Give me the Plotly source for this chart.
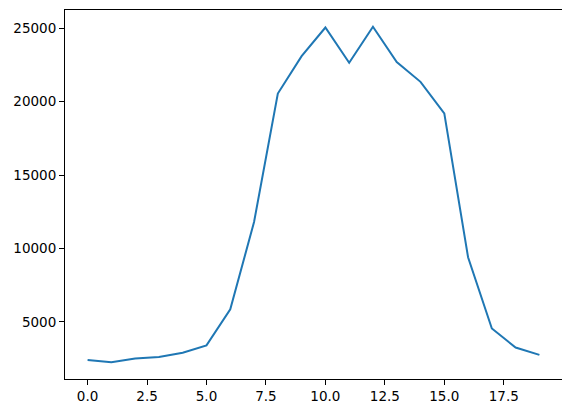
import plotly.graph_objects as go

# --- data ---
hours = list(range(20))
counts = [2400, 2250, 2500, 2600, 2900, 3400, 5850, 11800, 20550, 23100,
          25050, 22650, 25100, 22700, 21350, 19200, 9400, 4550, 3250, 2750]
x_ticks = [0.0, 2.5, 5.0, 7.5, 10.0, 12.5, 15.0, 17.5]
y_ticks = [5000, 10000, 15000, 20000, 25000]

# matplotlib-like 5% margins
x_pad = (max(hours) - min(hours)) * 0.05
y_pad = (max(counts) - min(counts)) * 0.05

fig = go.Figure()
fig.add_trace(go.Scatter(x=hours, y=counts, mode="lines",
                         line=dict(color="#1f77b4", width=2)))

axis_style = dict(showline=True, linecolor="black", linewidth=1, mirror=True,
                  ticks="outside", ticklen=5, tickwidth=1, tickcolor="black",
                  showgrid=False, zeroline=False, automargin=False,
                  tickfont=dict(family="DejaVu Sans", size=13.5, color="black"))

fig.update_xaxes(range=[min(hours) - x_pad, max(hours) + x_pad],
                 tickvals=x_ticks, ticktext=[f"{t:.1f}" for t in x_ticks],
                 **axis_style)
fig.update_yaxes(range=[min(counts) - y_pad, max(counts) + y_pad],
                 tickvals=y_ticks, ticktext=[str(t) for t in y_ticks],
                 **axis_style)

# page body has an 8px default margin, so the figure is shifted by that much
fig.update_layout(width=562, height=405, showlegend=False,
                  plot_bgcolor="white", paper_bgcolor="white",
                  margin=dict(l=57, r=8, t=2, b=34))

fig.write_html("out.html")
